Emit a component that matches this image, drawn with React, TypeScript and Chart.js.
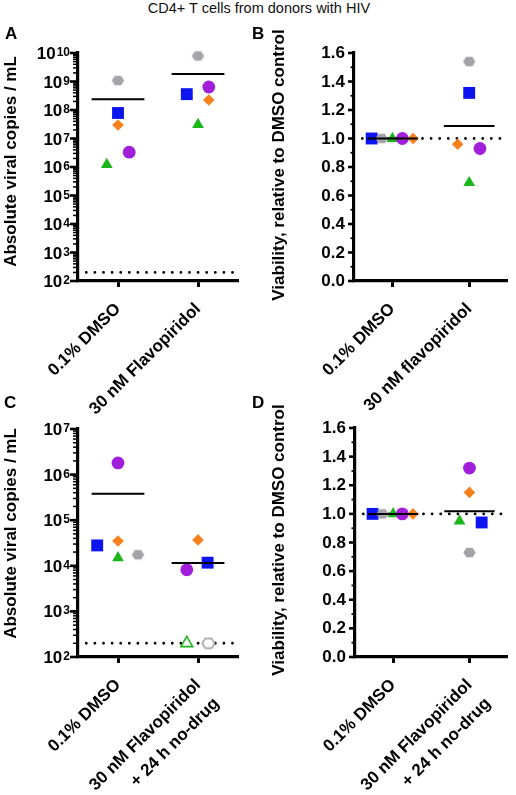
import React, { useEffect, useRef } from 'react';
import { Chart, registerables } from 'chart.js';
Chart.register(...registerables);

const FONT = "'Liberation Sans', Arial, Helvetica, sans-serif";
Chart.defaults.font.family = FONT;

// Donors (same marker in every panel): gray hexagon, blue square, orange diamond, purple circle, green triangle
const donorColors = ['#a3a3a8', '#0c14f0', '#f7821d', '#a11fdb', '#1cb51c'];
const donorShapes = ['hexagon', 'rect', 'rectRot', 'circle', 'triangle'];
const donorRadius = [6.2, 8.4, 5.8, 6.4, 6.8];

// Panel A: absolute viral copies / mL
const categoriesA = ['0.1% DMSO', '30 nM Flavopiridol'];
const viralA_DMSO = [1.08e9, 7.85e7, 2.98e7, 3.3e6, 1.22e6];
const viralA_Flavo = [7.85e9, 3.6e8, 2.24e8, 6.4e8, 3.1e7];
const jitterA_DMSO = [0, 0, 0, 0.14, -0.14];
const jitterA_Flavo = [0, -0.14, 0.135, 0.135, 0];
const exponentsA = [2, 3, 4, 5, 6, 7, 8, 9, 10];

// Panel B: viability relative to DMSO control
const categoriesB = ['0.1% DMSO', '30 nM flavopiridol'];
const viabB_DMSO = [1, 1, 1, 1, 1];
const viabB_Flavo = [1.54, 1.32, 0.96, 0.93, 0.69];
const jitterB_DMSO = [-0.14, -0.27, 0.27, 0.13, 0];
const jitterB_Flavo = [0, 0, -0.15, 0.14, 0];

// Panel C: absolute viral copies / mL after washout
const categoriesC = ['0.1% DMSO', ['30 nM Flavopiridol', '+ 24 h no-drug']];
const viralC_DMSO = [1.75e4, 2.8e4, 3.5e4, 1.8e6, 1.5e4];
const viralC_Flavo = [200, 1.17e4, 3.7e4, 8.2e3, 200];
const undetectedC_Flavo = [true, false, false, false, true];
const jitterC_DMSO = [0.25, -0.26, 0, 0, 0];
const jitterC_Flavo = [0.13, 0.12, 0, -0.14, -0.14];
const exponentsC = [2, 3, 4, 5, 6, 7];

// Panel D: viability after washout
const categoriesD = ['0.1% DMSO', ['30 nM Flavopiridol', '+ 24 h no-drug']];
const viabD_DMSO = [1, 1, 1, 1, 1];
const viabD_Flavo = [0.73, 0.94, 1.15, 1.32, 0.95];
const jitterD_DMSO = [-0.14, -0.27, 0.26, 0.12, 0];
const jitterD_Flavo = [0, 0.16, 0, 0, -0.13];

const viabilityTicks = [0, 0.2, 0.4, 0.6, 0.8, 1.0, 1.2, 1.4, 1.6];
const detectionLimit = 200;
const viabilityReference = 1.0;

const titleViral = 'Absolute viral copies / mL';
const titleViab = 'Viability, relative to DMSO control';

const hexCache: Record<string, HTMLCanvasElement> = {};
function hexImage(color: string, open: boolean, R: number) {
  const key = color + open + R;
  if (hexCache[key]) return hexCache[key];
  const size = Math.ceil(2 * R + 4);
  const c = document.createElement('canvas');
  c.width = size;
  c.height = size;
  const g = c.getContext('2d')!;
  g.beginPath();
  for (let i = 0; i < 6; i++) {
    const a = (Math.PI / 3) * i;
    const px = size / 2 + R * Math.cos(a);
    const py = size / 2 + R * Math.sin(a) * 0.9;
    if (i === 0) g.moveTo(px, py);
    else g.lineTo(px, py);
  }
  g.closePath();
  if (open) {
    g.fillStyle = '#fff';
    g.fill();
    g.lineWidth = 1.6;
    g.strokeStyle = color;
    g.stroke();
  } else {
    g.fillStyle = color;
    g.fill();
  }
  hexCache[key] = c;
  return c;
}

type PanelCfg = {
  left: number; top: number; w: number; h: number;
  area: { l: number; t: number; r: number; b: number };
  log: boolean; min: number; max: number;
  exponents?: number[];
  categories: any[];
  values: number[][];
  jitter: number[][];
  open?: (boolean[] | null)[];
  ref: number;
  title: string;
  titleX: number; titleY: number;
};

function axisPlugin(p: PanelCfg) {
  return {
    id: 'axisDecor',
    afterDraw(chart: any) {
      const ctx = chart.ctx as CanvasRenderingContext2D;
      const y = chart.scales.y;
      const ax = chart.chartArea.left;
      ctx.save();
      ctx.fillStyle = '#000';
      ctx.strokeStyle = '#000';
      const tick = (py: number, len: number, w: number) => {
        ctx.lineWidth = w;
        ctx.beginPath();
        ctx.moveTo(ax, py);
        ctx.lineTo(ax - len, py);
        ctx.stroke();
      };
      const big = `bold 17px ${FONT}`;
      const sup = `bold 12px ${FONT}`;
      if (p.log && p.exponents) {
        const exps = p.exponents;
        const hi = exps[exps.length - 1];
        exps.forEach((e) => {
          const py = y.getPixelForValue(Math.pow(10, e));
          tick(py, 8, 2.6);
          if (e < hi) {
            for (let k = 2; k <= 9; k++) tick(y.getPixelForValue(k * Math.pow(10, e)), 5, 1.5);
          }
          const right = ax - 8;
          ctx.textBaseline = 'alphabetic';
          ctx.textAlign = 'right';
          ctx.font = sup;
          const we = ctx.measureText(String(e)).width;
          ctx.fillText(String(e), right, py + 3);
          ctx.font = big;
          ctx.fillText('10', right - we - 1, py + 6);
        });
      } else {
        for (let i = 0; i < viabilityTicks.length; i++) {
          const v = viabilityTicks[i];
          const py = y.getPixelForValue(v);
          tick(py, 6, 2.6);
          ctx.font = big;
          ctx.textAlign = 'right';
          ctx.textBaseline = 'alphabetic';
          ctx.fillText(v.toFixed(1), ax - 9, py + 5);
          if (i < viabilityTicks.length - 1) {
            tick(y.getPixelForValue((v + viabilityTicks[i + 1]) / 2), 3.5, 1.8);
          }
        }
      }
      ctx.translate(p.titleX, p.titleY);
      ctx.rotate(-Math.PI / 2);
      ctx.font = big;
      ctx.textAlign = 'center';
      ctx.textBaseline = 'middle';
      ctx.fillText(p.title, 0, 0);
      ctx.restore();
    },
  };
}

function buildConfig(p: PanelCfg): any {
  const datasets: any[] = [];
  p.values.forEach((vals, c) => {
    const mean = vals.reduce((a, b) => a + b, 0) / vals.length;
    datasets.push({
      label: 'mean',
      data: [{ x: c - 0.33, y: mean }, { x: c + 0.33, y: mean }],
      showLine: true, borderColor: '#000', borderWidth: 2, pointRadius: 0, order: 0, clip: false,
    });
  });
  for (let d = 0; d < 5; d++) {
    const isOpen = (c: number) => !!(p.open && p.open[c] && p.open[c]![d]);
    datasets.push({
      label: `Donor ${d + 1}`,
      data: p.values.map((vals, c) => ({ x: c + p.jitter[c][d], y: vals[d] })),
      showLine: false,
      pointStyle: (ctx: any) =>
        donorShapes[d] === 'hexagon' ? hexImage(donorColors[d], isOpen(ctx.dataIndex), donorRadius[d]) : donorShapes[d],
      pointRadius: donorRadius[d],
      pointBackgroundColor: (ctx: any) => (isOpen(ctx.dataIndex) ? '#ffffff' : donorColors[d]),
      pointBorderColor: donorColors[d],
      pointBorderWidth: (ctx: any) => (isOpen(ctx.dataIndex) ? 1.6 : 0),
      order: 1, clip: false,
    });
  }
  datasets.push({
    label: 'reference',
    data: [{ x: -0.5, y: p.ref }, { x: 1.5, y: p.ref }],
    showLine: true, borderColor: '#000', borderWidth: 2.8, borderDash: [0, 8.6], borderDashOffset: 0.3,
    borderCapStyle: 'round', pointRadius: 0, order: 2, clip: false,
  });

  return {
    type: 'scatter',
    data: { datasets },
    options: {
      responsive: false, animation: false, devicePixelRatio: 1, events: [],
      layout: { padding: { left: 0, top: p.area.t, right: p.w - p.area.r, bottom: 0 } },
      plugins: { legend: { display: false }, tooltip: { enabled: false } },
      scales: {
        x: {
          type: 'linear', min: -0.5, max: 1.5,
          afterBuildTicks: (s: any) => { s.ticks = [{ value: 0 }, { value: 1 }]; },
          afterFit: (s: any) => {
            s.height = p.h - p.area.b;
            s.paddingLeft = 0; s.paddingRight = 0; s.paddingTop = 0; s.paddingBottom = 0;
          },
          grid: { display: true, drawOnChartArea: false, drawTicks: true, tickLength: 6, tickWidth: 3, tickColor: '#000' },
          border: { display: true, width: 3.2, color: '#000' },
          ticks: {
            autoSkip: false, minRotation: 45, maxRotation: 45, padding: 10, color: '#000',
            font: { family: FONT, size: 17, weight: 'bold', lineHeight: 1.55 },
            callback: (_v: any, i: number) => p.categories[i],
          },
        },
        y: {
          type: p.log ? 'logarithmic' : 'linear', min: p.min, max: p.max,
          afterFit: (s: any) => {
            s.width = p.area.l;
            s.paddingLeft = 0; s.paddingRight = 0; s.paddingTop = 0; s.paddingBottom = 0;
          },
          grid: { display: false },
          border: { display: true, width: 3.2, color: '#000' },
          ticks: { display: false },
        },
      },
    },
    plugins: [axisPlugin(p)],
  };
}

const panels: PanelCfg[] = [
  {
    left: 0, top: 20, w: 258, h: 400, area: { l: 78, t: 33, r: 238, b: 261 },
    log: true, min: 1e2, max: 1e10, exponents: exponentsA, categories: categoriesA,
    values: [viralA_DMSO, viralA_Flavo], jitter: [jitterA_DMSO, jitterA_Flavo],
    ref: detectionLimit, title: titleViral, titleX: 11, titleY: 141.5,
  },
  {
    left: 258, top: 20, w: 258, h: 400, area: { l: 96, t: 33, r: 254, b: 261 },
    log: false, min: 0, max: 1.6, categories: categoriesB,
    values: [viabB_DMSO, viabB_Flavo], jitter: [jitterB_DMSO, jitterB_Flavo],
    ref: viabilityReference, title: titleViab, titleX: 21.5, titleY: 145,
  },
  {
    left: 0, top: 390, w: 258, h: 405, area: { l: 78, t: 39, r: 238, b: 267 },
    log: true, min: 1e2, max: 1e7, exponents: exponentsC, categories: categoriesC,
    values: [viralC_DMSO, viralC_Flavo], jitter: [jitterC_DMSO, jitterC_Flavo],
    open: [null, undetectedC_Flavo],
    ref: detectionLimit, title: titleViral, titleX: 11, titleY: 143.5,
  },
  {
    left: 258, top: 390, w: 258, h: 405, area: { l: 97, t: 38, r: 255, b: 267 },
    log: false, min: 0, max: 1.6, categories: categoriesD,
    values: [viabD_DMSO, viabD_Flavo], jitter: [jitterD_DMSO, jitterD_Flavo],
    ref: viabilityReference, title: titleViab, titleX: 21.5, titleY: 150,
  },
];

function Panel({ cfg }: { cfg: PanelCfg }) {
  const ref = useRef<HTMLCanvasElement>(null);
  useEffect(() => {
    const chart = new Chart(ref.current!, buildConfig(cfg));
    return () => chart.destroy();
  }, [cfg]);
  return (
    <canvas ref={ref} width={cfg.w} height={cfg.h}
      style={{ position: 'absolute', left: cfg.left, top: cfg.top, width: cfg.w, height: cfg.h }} />
  );
}

const letterStyle: React.CSSProperties = {
  position: 'absolute', fontSize: 17, fontWeight: 'bold', lineHeight: '17px', fontFamily: FONT, color: '#000',
};

export default function App() {
  return (
    <div style={{ position: 'absolute', left: 0, top: 0, width: 516, height: 795, fontFamily: FONT, background: '#fff', overflow: 'hidden' }}>
      <div style={{ position: 'absolute', left: 0, top: 0, width: 518, textAlign: 'center', fontSize: 14.5, lineHeight: '16px', color: '#111' }}>
        CD4+ T cells from donors with HIV
      </div>
      {panels.map((p, i) => <Panel key={i} cfg={p} />)}
      <div style={{ ...letterStyle, left: 5, top: 25 }}>A</div>
      <div style={{ ...letterStyle, left: 252, top: 25 }}>B</div>
      <div style={{ ...letterStyle, left: 4, top: 394 }}>C</div>
      <div style={{ ...letterStyle, left: 252, top: 394 }}>D</div>
    </div>
  );
}
